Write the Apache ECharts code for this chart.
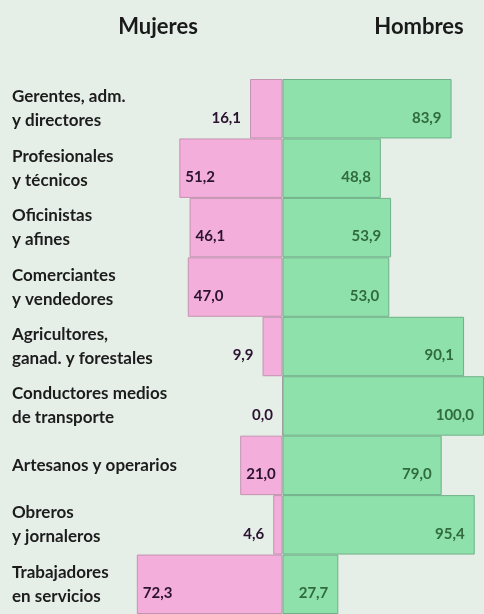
<!DOCTYPE html>
<html>
<head>
<meta charset="utf-8">
<script src="https://cdn.jsdelivr.net/npm/echarts@6/dist/echarts.min.js"></script>
<style>
html,body{margin:0;padding:0;background:#e6eee8;}
#c{width:484px;height:614px;}
</style>
</head>
<body>
<div id="c"></div>
<script>
const categories = [
  "Gerentes, adm.\ny directores",
  "Profesionales\ny técnicos",
  "Oficinistas\ny afines",
  "Comerciantes\ny vendedores",
  "Agricultores,\nganad. y forestales",
  "Conductores medios\nde transporte",
  "Artesanos y operarios",
  "Obreros\ny jornaleros",
  "Trabajadores\nen servicios"
];
const mujeres = [16.1, 51.2, 46.1, 47.0, 9.9, 0.0, 21.0, 4.6, 72.3];
const hombres = [83.9, 48.8, 53.9, 53.0, 90.1, 100.0, 79.0, 95.4, 27.7];
const titles = ["Mujeres", "Hombres"];

const fmt = v => Math.abs(v).toFixed(1).replace('.', ',');
const FONT = 'Lato, "Open Sans", sans-serif';

const chart = echarts.init(document.getElementById('c'), null, {renderer: 'canvas'});
chart.setOption({
  backgroundColor: '#e6eee8',
  animation: false,
  title: [
    {text: titles[0], left: 153, top: 11, textAlign: 'center',
     textStyle: {fontFamily: FONT, fontWeight: 'bold', fontSize: 22, color: '#1a1a1a'}},
    {text: titles[1], left: 414, top: 11, textAlign: 'center',
     textStyle: {fontFamily: FONT, fontWeight: 'bold', fontSize: 22, color: '#1a1a1a'}}
  ],
  grid: {left: 81, right: -1, top: 79, height: 540, containLabel: false},
  xAxis: {type: 'value', min: -100, max: 100, show: false},
  yAxis: {
    type: 'category', data: categories, inverse: true,
    axisLine: {show: false}, axisTick: {show: false}, splitLine: {show: false},
    axisLabel: {
      align: 'left', margin: 69, fontFamily: FONT, fontWeight: 'bold',
      fontSize: 17, lineHeight: 24, color: '#1c1c1c'
    }
  },
  series: [
    {
      name: titles[0], type: 'bar', stack: 'total', barCategoryGap: '0%',
      itemStyle: {color: '#f4aedb', borderColor: '#c493b0', borderWidth: 1},
      data: mujeres.map(v => ({
        value: -v,
        label: v >= 20
          ? {show: true, position: 'insideLeft', distance: 6, offset: [0, 9]}
          : {show: true, position: 'left', distance: 9, offset: [0, 9]}
      })),
      label: {
        show: true, formatter: p => fmt(p.value), fontFamily: FONT,
        fontWeight: 'bold', fontSize: 15, color: '#2a1230'
      }
    },
    {
      name: titles[1], type: 'bar', stack: 'total', barCategoryGap: '0%',
      itemStyle: {color: '#8fe1ac', borderColor: '#6fb088', borderWidth: 1},
      data: hombres,
      label: {
        show: true, position: 'insideRight', distance: 10, offset: [0, 9],
        formatter: p => fmt(p.value), fontFamily: FONT,
        fontWeight: 'bold', fontSize: 15, color: '#2f6b3c'
      }
    }
  ]
});
</script>
</body>
</html>
